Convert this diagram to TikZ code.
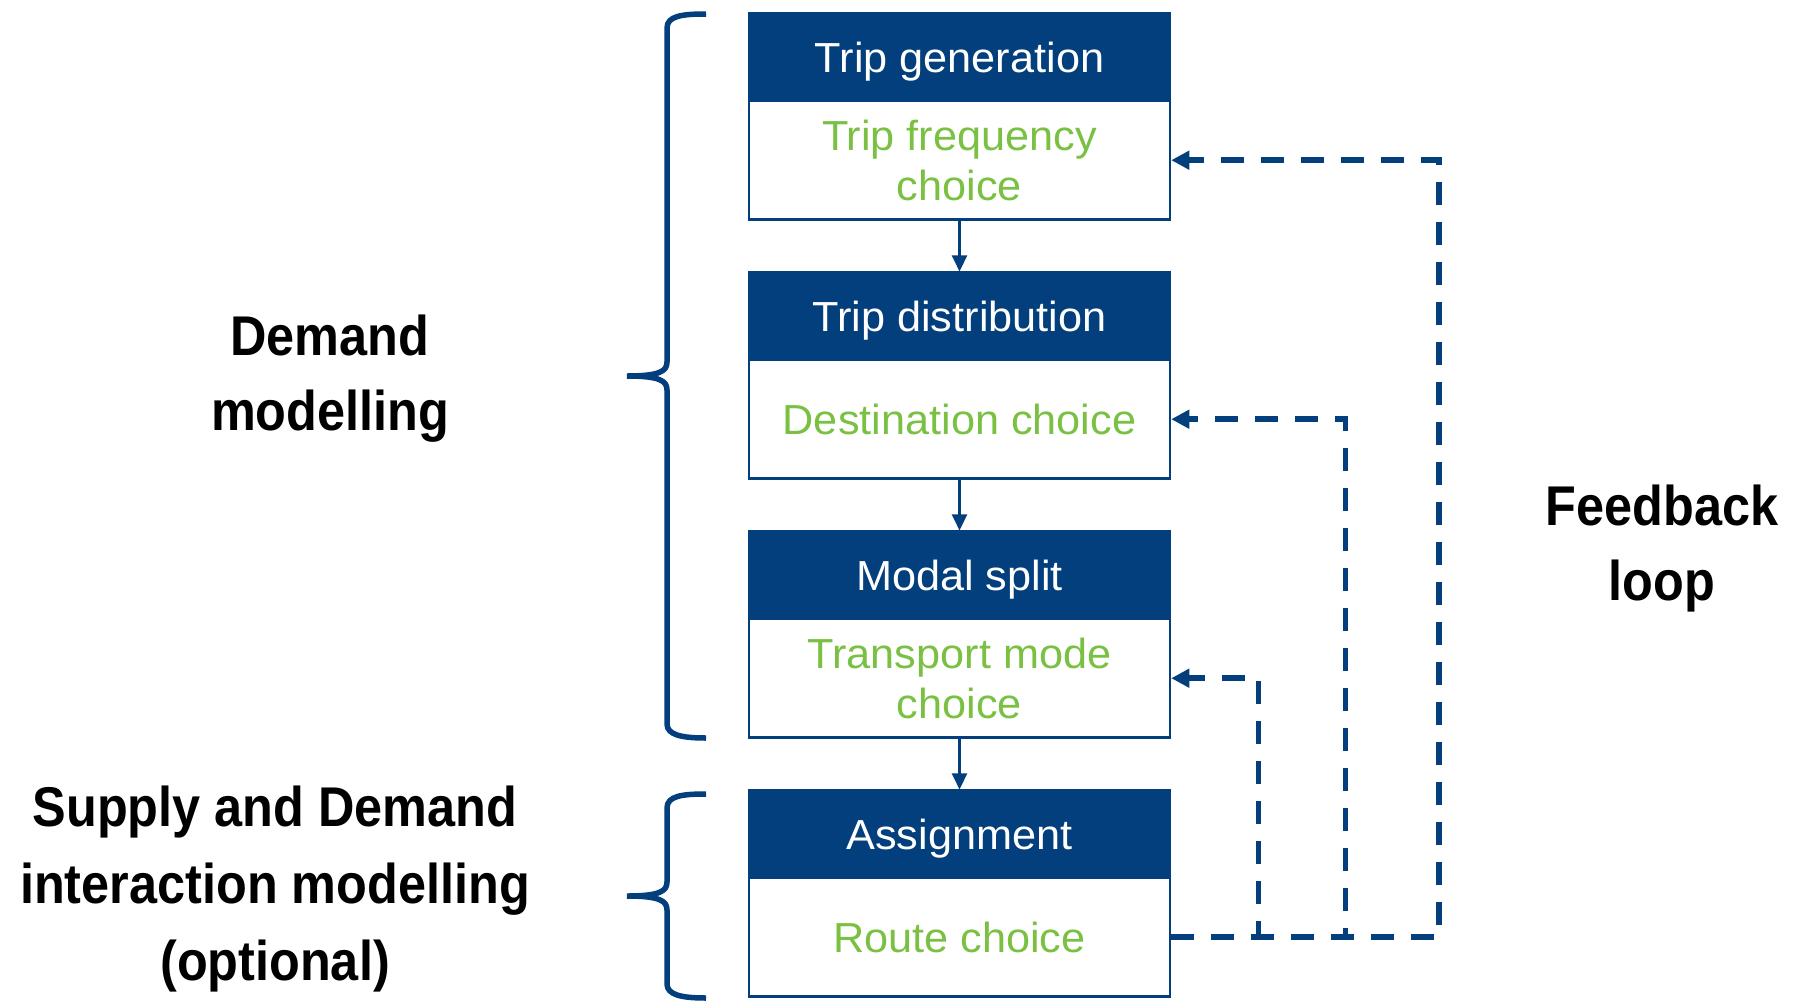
\documentclass[tikz,border=0pt]{standalone}
\usepackage{fontspec}
\setmainfont[FakeStretch=1.03]{Liberation Sans}
\newfontfamily\tagfont[FakeStretch=0.9]{Liberation Sans}
\usetikzlibrary{arrows.meta}
\definecolor{navy}{HTML}{033E7D}
\definecolor{leaf}{HTML}{7AC143}

\begin{document}
\begin{tikzpicture}[x=1pt,y=-1pt,
  head/.style={draw=navy, fill=navy, line width=2.5pt, minimum width=421pt,
    minimum height=87pt, inner sep=0pt, text=white,
    font=\fontsize{42}{50}\selectfont, text height=30pt, text depth=0pt},
  body/.style={draw=navy, fill=white, line width=2.5pt, minimum width=421pt,
    minimum height=119pt, inner sep=0pt, text=leaf,
    font=\fontsize{42}{50}\selectfont, align=center},
  flow/.style={draw=navy, line width=2.5pt, -{Triangle[width=15pt,length=16pt]}},
  fb/.style={draw=navy, line width=5.7pt, dash pattern=on 23pt off 17pt,
    -{Triangle[width=18pt,length=18pt]}},
  brace/.style={draw=navy, line width=5.5pt},
  tag/.style={align=center, inner sep=0pt,
    font=\tagfont\bfseries\fontsize{56}{75}\selectfont}]

% canvas
\fill[white] (0,0) rectangle (1794,1001);
\useasboundingbox (0,0) rectangle (1794,1001);

% model stages: header + body
\node[body] (b1) at (959.5,160.2) {Trip frequency\\choice};
\node[head] (h1) at (959.5,57.2) {Trip generation};
\node[body] (b2) at (959.5,419.2) {Destination choice};
\node[head] (h2) at (959.5,316.2) {Trip distribution};
\node[body] (b3) at (959.5,678.2) {Transport mode\\choice};
\node[head] (h3) at (959.5,575.2) {Modal split};
\node[body] (b4) at (959.5,937.2) {Route choice};
\node[head] (h4) at (959.5,834.2) {Assignment};

% sequential flow
\draw[flow] (b1.south) -- (h2.north);
\draw[flow] (b2.south) -- (h3.north);
\draw[flow] (b3.south) -- (h4.north);

% feedback loops
\coordinate (loopA) at (1258.5,678.2);
\coordinate (loopB) at (1345.5,419.2);
\coordinate (loopC) at (1439,160.2);
\draw[fb] (b4.east) -| (loopC) -- (b1.east);
\draw[fb] (b4.east) -| (loopB) -- (b2.east);
\draw[fb] (b4.east) -| (loopA) -- (b3.east);

% braces
\draw[brace] (706,14) .. controls (682,14) and (667,16) .. (667,28)
  -- (667,362) .. controls (667,371) and (660,376) .. (627,376)
  .. controls (660,376) and (667,381) .. (667,390)
  -- (667,724) .. controls (667,735) and (682,738) .. (706,738);
\draw[brace] (706,794) .. controls (682,794) and (667,796) .. (667,808)
  -- (667,882) .. controls (667,891) and (660,896) .. (627,896)
  .. controls (660,896) and (667,901) .. (667,910)
  -- (667,984) .. controls (667,995) and (682,998) .. (706,998);

% group labels
\node[tag] (demand) at (330,379) {Demand\\modelling};
\node[tag, font=\tagfont\bfseries\fontsize{56}{77}\selectfont] (supply) at (275,889.5)
  {Supply and Demand\\interaction modelling\\(optional)};
\node[tag] (feedback) at (1662,548.5) {Feedback\\loop};
\end{tikzpicture}
\end{document}
